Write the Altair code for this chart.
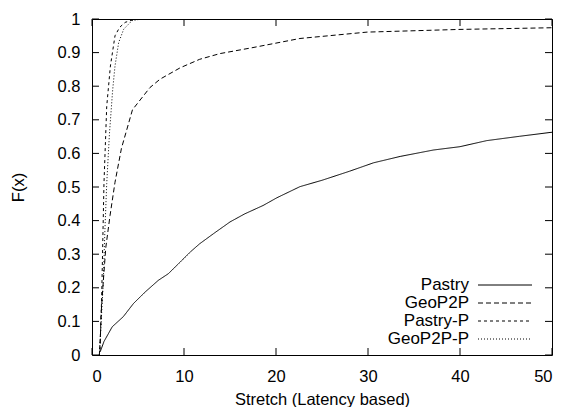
import altair as alt
import pandas as pd

series = ["Pastry", "GeoP2P", "Pastry-P", "GeoP2P-P"]

pastry_x = [0.9, 1.3, 2.2, 3.4, 4.5, 5.8, 7.2, 8.3, 9.6, 10.7, 11.7, 13.2, 15.0, 16.6,
            18.6, 20.1, 22.6, 25.0, 28.0, 30.6, 33.5, 37.1, 40.0, 42.9, 46.5, 50.0]
pastry_y = [0.01, 0.04, 0.084, 0.114, 0.153, 0.188, 0.222, 0.242, 0.277, 0.307, 0.331, 0.361,
            0.396, 0.42, 0.445, 0.468, 0.501, 0.52, 0.547, 0.572, 0.591, 0.61, 0.62, 0.638,
            0.651, 0.663]

geo_x = [0.87, 0.98, 1.23, 1.5, 1.96, 2.5, 3.2, 4.4, 6.3, 7.4, 9.6, 11.7, 13.9, 17.5,
         22.6, 29.9, 40.0, 50.0]
geo_y = [0.01, 0.12, 0.22, 0.32, 0.415, 0.514, 0.615, 0.73, 0.796, 0.821, 0.855, 0.88,
         0.897, 0.915, 0.942, 0.961, 0.969, 0.974]

pastryp_x = [0.8, 0.95, 1.05, 1.16, 1.3, 1.6, 2.0, 2.5, 3.0, 3.6, 4.5, 5.5, 10.0]
pastryp_y = [0.0, 0.08, 0.17, 0.32, 0.51, 0.74, 0.86, 0.95, 0.975, 0.99, 0.998, 1.0, 1.0]

geop_x = [0.8, 1.0, 1.23, 1.4, 1.6, 1.9, 2.25, 2.5, 2.9, 3.45, 4.35, 5.4, 10.0]
geop_y = [0.0, 0.1, 0.22, 0.37, 0.51, 0.66, 0.79, 0.86, 0.93, 0.97, 0.995, 1.0, 1.0]

x_ticks = [0, 10, 20, 30, 40, 50]
y_ticks = [0, 0.1, 0.2, 0.3, 0.4, 0.5, 0.6, 0.7, 0.8, 0.9, 1]

rows = []
for name, xs, ys in zip(series, [pastry_x, geo_x, pastryp_x, geop_x],
                        [pastry_y, geo_y, pastryp_y, geop_y]):
    for i, (a, b) in enumerate(zip(xs, ys)):
        rows.append({"series": name, "x": a, "y": b, "i": i})
df = pd.DataFrame(rows)

W, H = 460, 336
FONT = "Liberation Sans"
FS = 16.5
TL = 7
dash_range = [[1, 0], [5, 3], [3, 3], [1, 2]]

xscale = alt.Scale(domain=[0, 50], nice=False, zero=False)
yscale = alt.Scale(domain=[0, 1], nice=False)

common = dict(labelFont=FONT, titleFont=FONT, labelFontSize=FS, titleFontSize=FS,
              labelColor="black", titleColor="black", titleFontWeight="normal",
              ticks=False, domain=False, grid=False)

x_axis = alt.Axis(values=x_ticks, title="Stretch (Latency based)", labelPadding=13,
                  format="d", titleBaseline="alphabetic", titleY=49, **common)
y_axis = alt.Axis(values=y_ticks, title="F(x)", labelPadding=12, format="~g",
                  titleAngle=270, titleBaseline="middle", titleAlign="center",
                  titleX=-74, titleY=H / 2, **common)

lines = alt.Chart(df).mark_line(color="black", strokeWidth=1, clip=True).encode(
    x=alt.X("x:Q", scale=xscale, axis=x_axis),
    y=alt.Y("y:Q", scale=yscale, axis=y_axis),
    strokeDash=alt.StrokeDash("series:N", scale=alt.Scale(domain=series, range=dash_range),
                              legend=None),
    order="i:Q",
)

xt = pd.DataFrame({"x": x_ticks})
yt = pd.DataFrame({"y": y_ticks})

xb = alt.Chart(xt).mark_rule(color="black", strokeWidth=1).encode(
    x=alt.X("x:Q", scale=xscale, axis=x_axis), y=alt.value(H), y2=alt.value(H - TL))
xtop = alt.Chart(xt).mark_rule(color="black", strokeWidth=1).encode(
    x=alt.X("x:Q", scale=xscale, axis=x_axis), y=alt.value(0), y2=alt.value(TL))
yl = alt.Chart(yt).mark_rule(color="black", strokeWidth=1).encode(
    y=alt.Y("y:Q", scale=yscale, axis=y_axis), x=alt.value(0), x2=alt.value(TL))
yr = alt.Chart(yt).mark_rule(color="black", strokeWidth=1).encode(
    y=alt.Y("y:Q", scale=yscale, axis=y_axis), x=alt.value(W), x2=alt.value(W - TL))

layers = [lines, xb, xtop, yl, yr]
for k, name in enumerate(series):
    ly = 266 + 18 * k
    ld = pd.DataFrame({"label": [name]})
    layers.append(
        alt.Chart(ld).mark_text(align="right", baseline="middle", font=FONT, fontSize=17,
                                color="black").encode(
            text="label:N", x=alt.value(377), y=alt.value(ly)))
    layers.append(
        alt.Chart(ld).mark_rule(color="black", strokeWidth=1,
                                strokeDash=dash_range[k]).encode(
            x=alt.value(386), x2=alt.value(440), y=alt.value(ly)))

chart = alt.layer(*layers).properties(
    width=W, height=H,
    background="white",
    autosize=alt.AutoSizeParams(type="none"),
    padding={"left": 84, "top": 11, "right": 5, "bottom": 52},
).configure_view(stroke="black", strokeWidth=1)

chart.save("out.html", embed_options={"renderer": "svg", "actions": False})
